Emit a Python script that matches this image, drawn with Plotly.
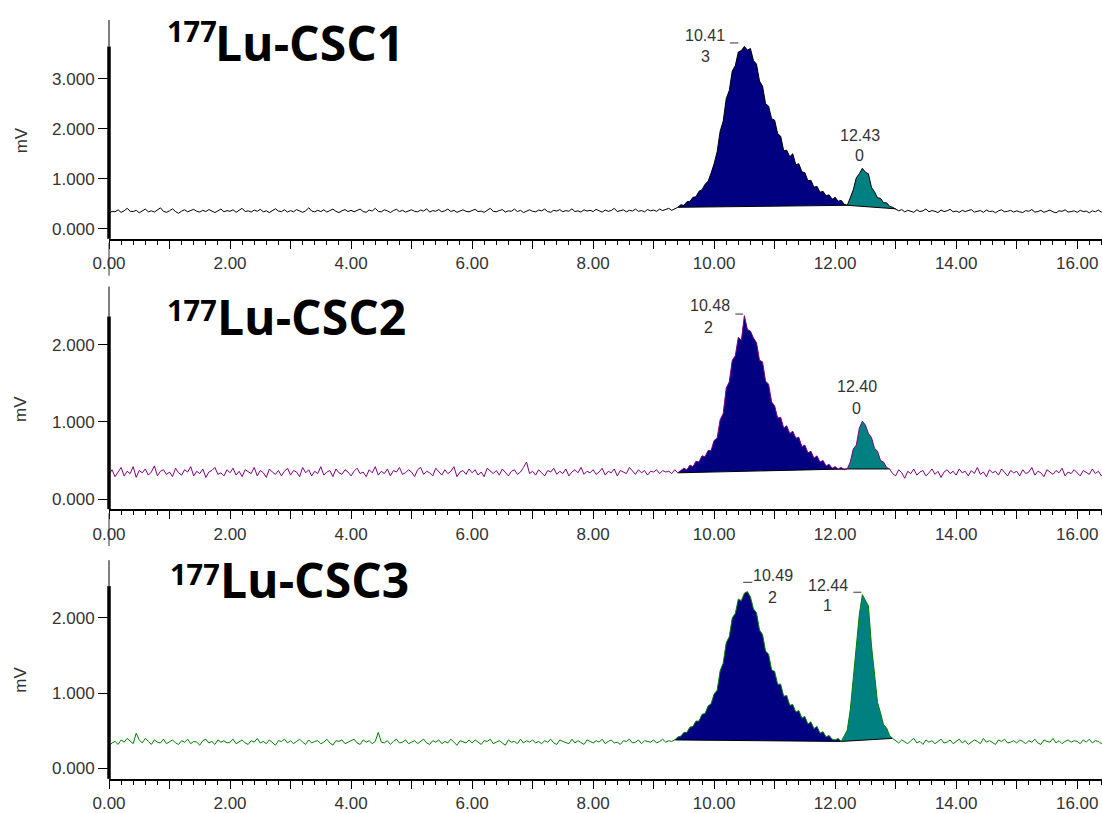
import plotly.graph_objects as go

# ---------------- data ----------------
TIME_START = 0.0      # min
TIME_STEP = 0.05      # min

CSC1_MV = [
    300, 350, 340, 380, 330, 360, 410, 350, 345, 370, 320, 365, 395, 340, 360, 335, 375, 420, 350, 330,
    360, 400, 345, 310, 355, 380, 340, 365, 390, 350, 335, 370, 345, 385, 355, 325, 360, 395, 340, 365,
    350, 380, 330, 365, 410, 345, 360, 335, 375, 350, 390, 340, 360, 325, 370, 400, 355, 345, 380, 335,
    365, 340, 385, 350, 330, 360, 420, 355, 340, 370, 345, 380, 335, 365, 395, 350, 325, 360, 385, 345,
    370, 340, 360, 395, 345, 330, 375, 355, 410, 350, 340, 380, 360, 325, 365, 390, 345, 370, 335, 360,
    380, 350, 340, 375, 355, 400, 335, 365, 350, 385, 340, 360, 395, 345, 370, 330, 360, 380, 350, 340,
    365, 390, 345, 355, 330, 375, 410, 350, 340, 365, 385, 335, 360, 350, 395, 345, 370, 325, 360, 380,
    350, 340, 375, 360, 395, 345, 330, 370, 355, 385, 340, 365, 350, 400, 345, 360, 335, 380, 355, 370,
    345, 390, 360, 335, 375, 350, 365, 410, 345, 360, 380, 340, 370, 355, 395, 350, 365, 340, 385, 360,
    375, 350, 395, 365, 380, 410, 370, 395, 430, 480, 470, 540, 550, 630, 640, 750, 780, 890, 950, 1110,
    1300, 1540, 1950, 2150, 2600, 2760, 3150, 3260, 3530, 3560, 3640, 3570, 3600, 3360, 3290, 2950, 2850, 2500, 2450, 2200,
    2170, 1900, 1850, 1560, 1570, 1440, 1500, 1280, 1300, 1140, 1120, 960, 970, 830, 850, 730, 750, 660, 680, 590,
    630, 550, 570, 490, 470, 620, 780, 1020, 1100, 1210, 1130, 1100, 830, 740, 620, 610, 520, 520, 450, 430,
    400, 360, 385, 340, 370, 355, 330, 380, 345, 360, 395, 340, 365, 350, 325, 375, 345, 360, 390, 340,
    355, 330, 370, 345, 360, 385, 335, 350, 365, 330, 375, 345, 355, 320, 360, 380, 340, 350, 370, 335,
    360, 340, 325, 365, 350, 385, 335, 345, 370, 330, 355, 375, 340, 320, 360, 350, 380, 335, 345, 360,
    330, 370, 345, 355, 320, 360, 340, 375, 335, 350,
]

CSC2_MV = [
    320, 380, 290, 350, 410, 300, 360, 330, 420, 280, 370, 340, 390, 310, 350, 430, 300, 360, 380, 320,
    350, 290, 400, 340, 310, 380, 350, 420, 300, 360, 330, 390, 280, 350, 370, 410, 320, 340, 300, 380,
    340, 400, 310, 360, 290, 380, 350, 330, 410, 300, 370, 340, 280, 390, 350, 320, 370, 300, 360, 400,
    310, 370, 350, 290, 410, 340, 380, 300, 360, 330, 420, 310, 350, 370, 290, 390, 340, 320, 380, 350,
    300, 360, 400, 330, 350, 290, 380, 340, 420, 310, 360, 330, 390, 300, 370, 350, 410, 320, 340, 380,
    350, 290, 380, 410, 320, 360, 340, 300, 400, 350, 310, 380, 330, 360, 420, 290, 350, 370, 320, 390,
    340, 380, 310, 350, 290, 400, 360, 330, 370, 310, 390, 340, 300, 360, 380, 320, 350, 410, 480, 330,
    360, 310, 380, 340, 300, 370, 350, 400, 320, 360, 330, 390, 300, 350, 380, 340, 410, 320, 360, 340,
    380, 320, 350, 400, 310, 360, 340, 390, 300, 370, 350, 330, 410, 360, 320, 380, 340, 370, 310, 360,
    350, 380, 330, 370, 350, 360, 330, 380, 340, 370, 400, 380, 440, 420, 490, 480, 560, 550, 630, 630,
    760, 790, 1030, 1110, 1440, 1520, 1800, 1860, 2100, 2060, 2380, 2200, 2180, 2090, 2030, 1800, 1780, 1530, 1490, 1260,
    1210, 1050, 1060, 920, 950, 850, 880, 790, 800, 680, 700, 600, 620, 530, 560, 480, 500, 430, 450, 400,
    420, 390, 410, 380, 390, 480, 650, 700, 920, 1010, 960, 850, 800, 660, 620, 500, 480, 410, 390, 330,
    300, 380, 340, 270, 360, 330, 390, 310, 350, 370, 300, 340, 390, 320, 360, 280, 350, 380, 330, 360,
    310, 390, 340, 360, 300, 370, 330, 410, 320, 350, 290, 380, 340, 360, 310, 390, 350, 300, 370, 340,
    360, 300, 380, 330, 350, 410, 310, 360, 340, 290, 380, 350, 320, 370, 340, 400, 300, 350, 330, 380,
    340, 300, 370, 350, 320, 390, 330, 360, 300, 350,
]

CSC3_MV = [
    300, 340, 360, 320, 380, 350, 400, 360, 330, 470, 380, 340, 400, 360, 320, 380, 350, 340, 390, 330,
    360, 380, 340, 320, 370, 350, 390, 330, 360, 350, 310, 370, 390, 340, 360, 320, 380, 350, 370, 340,
    350, 390, 330, 360, 380, 340, 320, 370, 350, 400, 340, 360, 330, 380, 350, 310, 370, 360, 390, 340,
    370, 330, 360, 390, 350, 320, 380, 340, 360, 370, 330, 350, 390, 340, 310, 370, 360, 380, 330, 350,
    360, 390, 340, 320, 380, 350, 370, 330, 360, 480, 350, 340, 370, 320, 360, 390, 340, 350, 380, 330,
    350, 370, 330, 360, 390, 340, 320, 370, 350, 380, 330, 360, 340, 390, 350, 310, 370, 360, 340, 380,
    340, 380, 350, 320, 370, 360, 390, 330, 350, 370, 340, 310, 380, 350, 360, 330, 390, 340, 370, 350,
    380, 340, 360, 330, 370, 350, 390, 340, 320, 380, 360, 350, 330, 390, 340, 370, 350, 320, 380, 360,
    340, 370, 350, 390, 330, 360, 380, 340, 350, 320, 370, 360, 390, 340, 350, 380, 330, 370, 360, 350,
    380, 340, 360, 390, 350, 370, 360, 380, 420, 430, 480, 480, 550, 560, 630, 630, 720, 730, 830, 860,
    990, 1040, 1300, 1400, 1670, 1750, 2000, 2060, 2250, 2230, 2330, 2350, 2280, 2120, 2070, 1840, 1780, 1560, 1520, 1310,
    1290, 1120, 1120, 960, 970, 840, 850, 750, 770, 670, 690, 590, 620, 530, 560, 470, 490, 420, 440, 390,
    380, 400, 360, 430, 510, 780, 1230, 1640, 2050, 2310, 2240, 2160, 1640, 1230, 880, 740, 580, 540, 440, 400,
    370, 340, 380, 350, 330, 370, 400, 340, 360, 320, 380, 350, 370, 330, 360, 390, 340, 350, 380, 330,
    360, 390, 340, 370, 320, 350, 380, 360, 330, 400, 350, 370, 340, 320, 380, 360, 390, 340, 350, 370,
    340, 380, 360, 330, 370, 350, 390, 340, 320, 380, 360, 350, 400, 340, 370, 330, 360, 380, 350, 370,
    360, 330, 380, 350, 390, 340, 370, 360, 330, 380,
]

SAMPLE_NAMES = ["Lu-CSC1", "Lu-CSC2", "Lu-CSC3"]
ISOTOPE = "177"

# integrated peak windows (start, end) in min
PEAKS_1 = [(9.40, 12.20), (12.20, 13.00)]
PEAKS_2 = [(9.40, 12.20), (12.20, 12.90)]
PEAKS_3 = [(9.35, 12.10), (12.10, 12.95)]

# retention-time labels (two text lines each)
RT_LABELS_1 = [("10.41", "3"), ("12.43", "0")]
RT_LABELS_2 = [("10.48", "2"), ("12.40", "0")]
RT_LABELS_3 = [("10.49", "2"), ("12.44", "1")]

X_TICKS = list(range(0, 17))
X_TICK_TEXT = [f"{v:.2f}" if v % 2 == 0 else "" for v in X_TICKS]
Y_TICKS_1 = [0, 1000, 2000, 3000]
Y_TICKS_2 = [0, 1000, 2000]
Y_TICKS_3 = [0, 1000, 2000]
Y_TICK_TEXT = {0: "0.000", 1000: "1.000", 2000: "2.000", 3000: "3.000"}

# ---------------- style / layout ----------------
W, H = 1102, 813
LEFT = 109
TRACE_COLORS = ["#000000", "#800080", "#008000"]
PEAK_FILLS = ["#000080", "#008080"]
TICK_FONT = dict(family="Liberation Sans, Arial", size=17, color="#333333")
X_MAX = 16.41

# panel geometry in pixels
PANELS = [
    dict(top=20, bottom=240, thick=46.7, yr=(-199, 4172), mv_y=141),
    dict(top=288, bottom=511.7, thick=318, yr=(-132, 2757), mv_y=411),
    dict(top=563, bottom=782.7, thick=589, yr=(-137, 2767), mv_y=683),
]
TITLE_POS = [  # (177 left, 177 mid-y, name left, name mid-y)
    (165, 31, 213, 42.5),
    (165, 311, 215, 318.5),
    (168, 576, 218, 582.5),
]
# label positions (time, mV) for first and second line, and dash segment
RT_POS = [
    [((9.85, 3857), (9.85, 3439), (10.26, 10.40, 3712)), ((12.41, 1855), (12.40, 1457), None)],
    [((9.93, 2507), (9.90, 2228), (10.35, 10.48, 2400)), ((12.36, 1454), (12.35, 1174), None)],
    [((10.98, 2563), (10.96, 2276), (10.48, 10.63, 2474)), ((11.88, 2430), (11.88, 2166), (12.30, 12.43, 2342))],
]


def py(ypx):
    return 1 - ypx / H


def pxx(xpx):
    return (xpx - LEFT) / (W - LEFT)


series = [CSC1_MV, CSC2_MV, CSC3_MV]
peaks = [PEAKS_1, PEAKS_2, PEAKS_3]
rt_labels = [RT_LABELS_1, RT_LABELS_2, RT_LABELS_3]
y_ticks = [Y_TICKS_1, Y_TICKS_2, Y_TICKS_3]

fig = go.Figure()
shapes = []
annotations = []

for k in range(3):
    vals = series[k]
    times = [round(TIME_START + i * TIME_STEP, 2) for i in range(len(vals))]
    xa = "x" if k == 0 else f"x{k+1}"
    ya = "y" if k == 0 else f"y{k+1}"

    def idx(t):
        return int(round((t - TIME_START) / TIME_STEP))

    for j, (t0, t1) in enumerate(peaks[k]):
        i0, i1 = idx(t0), idx(t1)
        fig.add_trace(go.Scatter(
            x=times[i0:i1 + 1], y=vals[i0:i1 + 1], xaxis=xa, yaxis=ya,
            mode="lines", fill="toself", fillcolor=PEAK_FILLS[j],
            line=dict(width=0, color=PEAK_FILLS[j]), hoverinfo="skip", showlegend=False))
        fig.add_trace(go.Scatter(
            x=[times[i0], times[i1]], y=[vals[i0], vals[i1]], xaxis=xa, yaxis=ya,
            mode="lines", line=dict(width=1, color="#000000"), hoverinfo="skip", showlegend=False))

    fig.add_trace(go.Scatter(
        x=times, y=vals, xaxis=xa, yaxis=ya, mode="lines",
        line=dict(width=1, color=TRACE_COLORS[k]), showlegend=False))

    p = PANELS[k]
    dom = [py(p["bottom"]), py(p["top"])]
    xkey = "xaxis" if k == 0 else f"xaxis{k+1}"
    ykey = "yaxis" if k == 0 else f"yaxis{k+1}"
    fig.update_layout(**{
        xkey: dict(domain=[0, 1], anchor=ya, range=[0, X_MAX], showline=True, linewidth=2,
                   linecolor="#000000", ticks="outside", ticklen=8, tickwidth=1, tickcolor="#000000",
                   tickmode="array", tickvals=X_TICKS, ticktext=X_TICK_TEXT, tickfont=TICK_FONT,
                   showgrid=False, zeroline=False,
                   minor=dict(tick0=0, dtick=0.2, ticks="outside", ticklen=4, tickwidth=1,
                              tickcolor="#000000", showgrid=False)),
        ykey: dict(domain=dom, anchor=xa, range=list(p["yr"]), showline=False, ticks="outside",
                   ticklen=10, tickwidth=1, tickcolor="#000000", tickmode="array",
                   tickvals=y_ticks[k], ticktext=[Y_TICK_TEXT[v] for v in y_ticks[k]],
                   tickfont=TICK_FONT, showgrid=False, zeroline=False),
    })

    # spines
    shapes.append(dict(type="line", xref="paper", yref="paper", x0=0, x1=0,
                       y0=py(p["bottom"]), y1=py(p["thick"]), line=dict(color="#000000", width=3.5)))
    shapes.append(dict(type="line", xref="paper", yref="paper", x0=0, x1=0,
                       y0=py(p["thick"]), y1=py(p["top"]), line=dict(color="#000000", width=1)))
    if k < 2:
        shapes.append(dict(type="line", xref="paper", yref="paper", x0=0, x1=0,
                           y0=py(p["bottom"] + 4), y1=py(p["bottom"] + 37),
                           line=dict(color="#333333", width=1)))

    # mV label
    annotations.append(dict(xref="paper", yref="paper", x=pxx(21), y=py(p["mv_y"]), text="mV",
                            textangle=-90, showarrow=False, xanchor="center", yanchor="middle",
                            font=TICK_FONT))

    # titles
    a_x, a_y, n_x, n_y = TITLE_POS[k]
    annotations.append(dict(xref="paper", yref="paper", x=pxx(a_x), y=py(a_y), text=f"<b>{ISOTOPE}</b>",
                            showarrow=False, xanchor="left", yanchor="middle",
                            font=dict(family="Open Sans", size=29, color="#000000")))
    annotations.append(dict(xref="paper", yref="paper", x=pxx(n_x), y=py(n_y), text=f"<b>{SAMPLE_NAMES[k]}</b>",
                            showarrow=False, xanchor="left", yanchor="middle",
                            font=dict(family="Open Sans", size=48, color="#000000")))

    # retention-time labels
    for (l1, l2), (p1, p2, dash) in zip(rt_labels[k], RT_POS[k]):
        annotations.append(dict(xref=xa, yref=ya, x=p1[0], y=p1[1], text=l1, showarrow=False,
                                xanchor="center", yanchor="middle",
                                font=dict(family="Liberation Sans, Arial", size=16, color="#333333")))
        annotations.append(dict(xref=xa, yref=ya, x=p2[0], y=p2[1], text=l2, showarrow=False,
                                xanchor="center", yanchor="middle",
                                font=dict(family="Liberation Sans, Arial", size=16, color="#333333")))
        if dash is not None:
            shapes.append(dict(type="line", xref=xa, yref=ya, x0=dash[0], x1=dash[1],
                               y0=dash[2], y1=dash[2], line=dict(color="#333333", width=1)))

fig.update_layout(
    width=W, height=H,
    margin=dict(l=LEFT, r=0, t=0, b=0),
    paper_bgcolor="#ffffff", plot_bgcolor="#ffffff",
    shapes=shapes, annotations=annotations,
    showlegend=False,
)

fig.write_html("out.html")
